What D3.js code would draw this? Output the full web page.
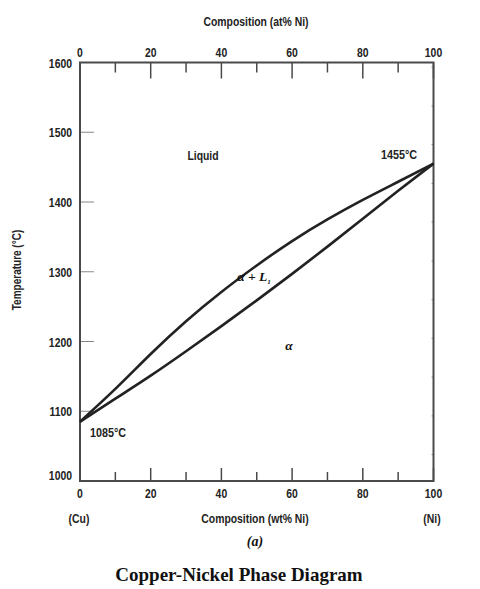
<!DOCTYPE html>
<html>
<head>
<meta charset="utf-8">
<script src="https://cdn.jsdelivr.net/npm/d3@7"></script>
<style>
	body { margin: 0; background: #fff; }
	svg { display: block; }
	.lbl { font-family: 'Liberation Sans', Arial, sans-serif; font-weight: bold; fill: #222; }
	.serif { font-family: 'Liberation Serif', 'Times New Roman', serif; font-weight: bold; fill: #111; }
</style>
</head>
<body>
<svg></svg>
<script>
'use strict'

// composition in wt% Ni
let composition = [0, 10, 20, 30, 40, 50, 60, 70, 80, 90, 100]
// liquidus and solidus temperatures (deg C)
let liquidus = [1085, 1132, 1182, 1229, 1271, 1309, 1344, 1375, 1403, 1429, 1455]
let solidus = [1085, 1118, 1151, 1186, 1222, 1259, 1297, 1336, 1376, 1416, 1455]

let xMajor = [0, 20, 40, 60, 80, 100]
let xMinor = [10, 30, 50, 70, 90]
let yTicks = [1000, 1100, 1200, 1300, 1400, 1500, 1600]
let fTicks = [1900, 2000, 2100, 2200, 2300, 2400, 2500, 2600, 2700, 2800, 2900]

let width = 480,
	height = 589

let svg = d3.select('svg')
	.attr('width', width)
	.attr('height', height)

let x = d3.scaleLinear().domain([0, 100]).range([80, 433.5])
let y = d3.scaleLinear().domain([1000, 1600]).range([481, 62.5])

let axisColor = '#4a4a4a'

// tick marks
let ticks = svg.append('g').attr('stroke', axisColor)

function vTicks(data, y0, len) {
	ticks.append('g').selectAll('line')
		.data(data)
		.enter().append('line')
		.attr('x1', function(d) { return x(d) })
		.attr('x2', function(d) { return x(d) })
		.attr('y1', y0)
		.attr('y2', y0 + len)
		.attr('stroke-width', 1.5)
}

vTicks(xMajor, y(1600), 16)
vTicks(xMinor, y(1600), 10)
vTicks(xMajor, y(1000), -13)
vTicks(xMinor, y(1000), -9)

ticks.append('g').selectAll('line')
	.data(yTicks.slice(1, -1))
	.enter().append('line')
	.attr('x1', x(0))
	.attr('x2', x(0) + 14)
	.attr('y1', function(d) { return y(d) })
	.attr('y2', function(d) { return y(d) })
	.attr('stroke', '#888')
	.attr('stroke-width', 1)

// faint fahrenheit marks on the right edge
ticks.append('g').selectAll('line')
	.data(fTicks)
	.enter().append('line')
	.attr('x1', x(100) - 2)
	.attr('x2', x(100))
	.attr('y1', function(d) { return y((d - 32) * 5 / 9) })
	.attr('y2', function(d) { return y((d - 32) * 5 / 9) })
	.attr('stroke', '#999')
	.attr('stroke-width', 1)

// frame
svg.append('rect')
	.attr('x', x(0))
	.attr('y', y(1600))
	.attr('width', x(100) - x(0))
	.attr('height', y(1000) - y(1600))
	.attr('fill', 'none')
	.attr('stroke', axisColor)
	.attr('stroke-width', 2)

// phase boundaries
let line = d3.line()
	.x(function(d, i) { return x(composition[i]) })
	.y(function(d) { return y(d) })
	.curve(d3.curveNatural)

svg.append('path')
	.attr('d', line(liquidus))
	.attr('fill', 'none')
	.attr('stroke', '#222')
	.attr('stroke-width', 2.6)

svg.append('path')
	.attr('d', line(solidus))
	.attr('fill', 'none')
	.attr('stroke', '#222')
	.attr('stroke-width', 2.6)

// tick labels
svg.selectAll('.topLbl')
	.data(xMajor)
	.enter().append('text')
	.attr('class', 'lbl')
	.attr('x', function(d) { return x(d) })
	.attr('y', 57)
	.attr('text-anchor', 'middle')
	.style('font-size', '13px')
	.text(function(d) { return d })

svg.selectAll('.botLbl')
	.data(xMajor)
	.enter().append('text')
	.attr('class', 'lbl')
	.attr('x', function(d) { return x(d) })
	.attr('y', 498)
	.attr('text-anchor', 'middle')
	.style('font-size', '13px')
	.text(function(d) { return d })

svg.selectAll('.leftLbl')
	.data(yTicks)
	.enter().append('text')
	.attr('class', 'lbl')
	.attr('x', 72)
	.attr('y', function(d) { return d === 1000 ? y(d) - 1 : y(d) + 5 })
	.attr('text-anchor', 'end')
	.style('font-size', '13px')
	.text(function(d) { return d })

function label(txt, px, py, size, anchor, cls) {
	return svg.append('text')
		.attr('class', cls || 'lbl')
		.attr('x', px)
		.attr('y', py)
		.attr('text-anchor', anchor || 'middle')
		.style('font-size', size + 'px')
		.text(txt)
}

label('Composition (at% Ni)', 256, 26, 13)
label('Composition (wt% Ni)', 255, 523, 13)
label('(Cu)', 79, 523, 13)
label('(Ni)', 432, 523, 13)
label('Liquid', 203, 160, 13)
label('1455°C', 399, 159, 13.5)
label('1085°C', 108, 437, 13.5)

svg.append('text')
	.attr('class', 'lbl')
	.attr('transform', 'translate(21,270) rotate(-90)')
	.attr('text-anchor', 'middle')
	.style('font-size', '12.5px')
	.text('Temperature (°C)')

// squeeze the sans labels to look like a condensed face
svg.selectAll('text.lbl').each(function() {
	let w = this.getComputedTextLength()
	d3.select(this)
		.attr('textLength', w * 0.8)
		.attr('lengthAdjust', 'spacingAndGlyphs')
})

let aL = label('', 254, 281, 13.5, 'middle', 'serif')
	.style('font-style', 'italic')
aL.append('tspan').text('α + L')
aL.append('tspan').attr('dy', 3).style('font-size', '7px').text('1')

label('α', 289, 350, 13.5, 'middle', 'serif').style('font-style', 'italic')
label('(a)', 255, 546, 14, 'middle', 'serif').style('font-style', 'italic')
label('Copper-Nickel Phase Diagram', 239, 581, 19, 'middle', 'serif')
</script>
</body>
</html>
